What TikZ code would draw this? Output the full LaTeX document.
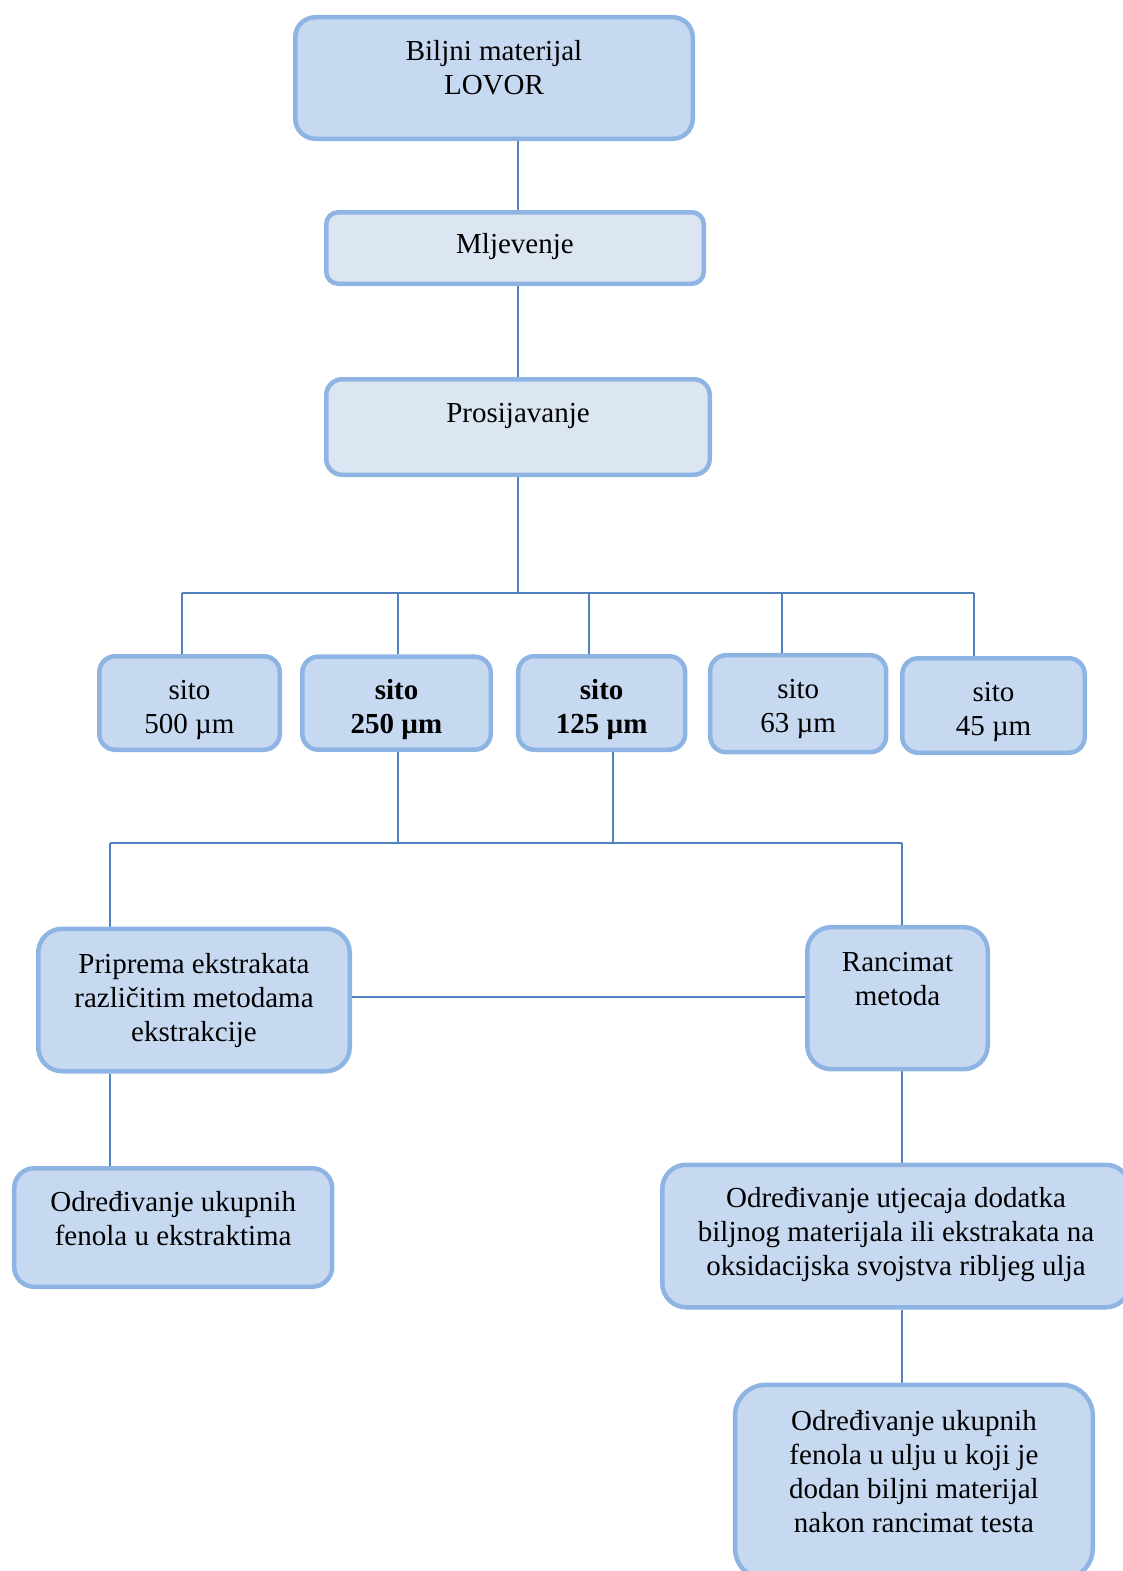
\documentclass[tikz,border=0pt]{standalone}
\usepackage{fontspec}
\setmainfont{Liberation Serif}
\usetikzlibrary{backgrounds}
\definecolor{boxfill}{HTML}{C6D9F1}
\definecolor{boxpale}{HTML}{DCE6F2}
\definecolor{boxline}{HTML}{8EB4E3}
\definecolor{linkblue}{HTML}{4F81BD}
\tikzstyle{stage} = [rectangle, draw=boxline, line width=4.5pt, fill=boxfill, inner sep=0pt]
\tikzstyle{link} = [draw=linkblue, line width=1.8pt]
% box text: [top pad], width, height, lines (set from the top)
\newcommand{\stagetext}[4][19.3]{\parbox[c][#3pt][t]{#2pt}{\centering\vspace*{#1pt}\strut #4}}

\begin{document}
\begin{tikzpicture}[x=1pt, y=-1pt, font=\fontsize{29}{34}\selectfont]

    \useasboundingbox (0,0) rectangle (1122,1571);

    \node (bilj) [stage, rounded corners=20pt] at (494,78) {\stagetext{397.5}{121.5}{Biljni materijal\\LOVOR}};

    \node (mlj) [stage, fill=boxpale, rounded corners=12pt] at (515,248) {\stagetext[17]{377.5}{71.5}{Mljevenje}};

    \node (pros) [stage, fill=boxpale, rounded corners=16pt] at (518,427) {\stagetext{383.5}{95.5}{Prosijavanje}};

    % sita
    \node (s500) [stage, rounded corners=16pt] at (189.5,703) {\stagetext{180.5}{93.5}{sito\\500 µm}};
    \node (s250) [stage, rounded corners=16pt] at (396.5,703.2) {\stagetext{188.5}{93}{\textbf{sito}\\\textbf{250 µm}}};
    \node (s125) [stage, rounded corners=16pt] at (601.7,703) {\stagetext{167}{93.5}{\textbf{sito}\\\textbf{125 µm}}};
    \node (s63) [stage, rounded corners=16pt] at (798.2,703.7) {\stagetext{176}{97}{sito\\63 µm}};
    \node (s45) [stage, rounded corners=16pt] at (993.5,705.5) {\stagetext{182.5}{94.5}{sito\\45 µm}};

    \node (prip) [stage, rounded corners=24pt] at (194,1000) {\stagetext[20.5]{311.5}{142.5}{Priprema ekstrakata\\različitim metodama\\ekstrakcije}};

    \node (ranc) [stage, rounded corners=24pt] at (897.5,998.2) {\stagetext[20.5]{180.5}{142}{Rancimat\\metoda}};

    \node (odrL) [stage, rounded corners=20pt] at (173.2,1227.5) {\stagetext{318}{118.5}{Određivanje ukupnih\\fenola u ekstraktima}};

    \node (odrR) [stage, rounded corners=24pt] at (896,1236) {\stagetext{467.5}{142.5}{Određivanje utjecaja dodatka\\biljnog materijala ili ekstrakata na\\oksidacijska svojstva ribljeg ulja}};

    \node (odrB) [stage, rounded corners=31pt] at (913.9,1482) {\stagetext[22.4]{357.8}{194.5}{Određivanje ukupnih\\fenola u ulju u koji je\\dodan biljni materijal\\nakon rancimat testa}};

    \coordinate (trunk) at (517.7,592.7);
    \coordinate (lowL) at (110,842.7);
    \coordinate (lowR) at (901.7,842.7);
    \coordinate (mid) at (0,997.3);

    \begin{scope}[on background layer]
        \draw[link] (bilj.south -| trunk) -- (mlj.north -| trunk);
        \draw[link] (mlj.south -| trunk) -- (pros.north -| trunk);
        \draw[link] (pros.south -| trunk) -- (trunk);
        \draw[link] (181.7,592.7) -- (974,592.7);
        \foreach \s/\x in {s500/181.7, s250/397.7, s125/589.3, s63/781.7, s45/974}
            \draw[link] (\x,592.7) -- (\x,592.7 |- \s.north);
        \draw[link] (lowL) -- (lowR);
        \foreach \s/\x in {s250/397.7, s125/613.3}
            \draw[link] (\x,842.7 |- \s.south) -- (\x,842.7);
        \draw[link] (lowL) -- (lowL |- prip.north);
        \draw[link] (lowR) -- (lowR |- ranc.north);
        \draw[link] (prip.east |- mid) -- (ranc.west |- mid);
        \draw[link] (prip.south -| lowL) -- (odrL.north -| lowL);
        \draw[link] (ranc.south -| lowR) -- (odrR.north -| lowR);
        \draw[link] (odrR.south -| lowR) -- (odrB.north -| lowR);
    \end{scope}

\end{tikzpicture}
\end{document}
